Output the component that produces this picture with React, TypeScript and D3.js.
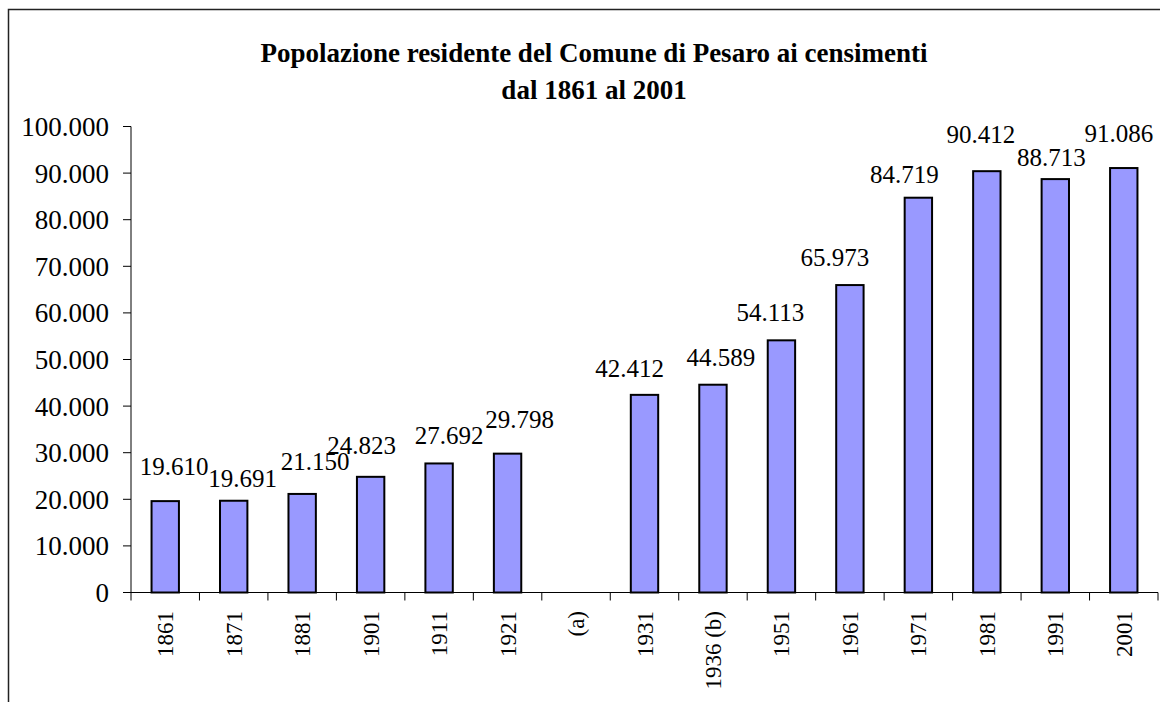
import React from "react";
import * as d3 from "d3";

const categories = ["1861", "1871", "1881", "1901", "1911", "1921", "(a)", "1931", "1936 (b)", "1951", "1961", "1971", "1981", "1991", "2001"];
const population: (number | null)[] = [19610, 19691, 21150, 24823, 27692, 29798, null, 42412, 44589, 54113, 65973, 84719, 90412, 88713, 91086];
const yTicks = [0, 10000, 20000, 30000, 40000, 50000, 60000, 70000, 80000, 90000, 100000];
const titleLines = ["Popolazione residente del Comune di Pesaro ai censimenti", "dal 1861 al 2001"];
// label nudges relative to bar centre / bar top (px)
const labelNudge: [number, number][] = [
  [9, -26], [9, -14], [13, -24], [-9, -23], [10, -19], [12, -26], [0, 0],
  [-15, -18], [8, -19], [-11, -19], [-15, -19], [-14, -15], [-6, -28], [-4, -13], [-5, -26],
];

const fmt = (v: number) => d3.format(",")(v).replace(/,/g, ".");

export default function App() {
  const W = 1160, H = 702;
  const x = d3.scaleBand<string>().domain(categories).range([131, 1158]).paddingInner(0).paddingOuter(0);
  const y = d3.scaleLinear().domain([0, 100000]).range([592.5, 126.5]);
  const bw = x.bandwidth();
  const barW = bw / 2.5;
  const font = "'Liberation Serif', 'Times New Roman', Times, serif";
  const y0 = y(0);
  const boundaries = d3.range(categories.length + 1).map((i) => 131 + i * bw);
  const ts = { fontFamily: font, fill: "#000" } as React.CSSProperties;

  return (
    <div style={{ position: "absolute", left: 0, top: 0 }}>
      <svg width={W} height={H} style={{ display: "block", fontFamily: font }}>
        <rect x={0} y={0} width={W} height={H} fill="#fff" />
        <rect x={8.5} y={9.5} width={1200} height={800} fill="none" stroke="#222" strokeWidth={1.5} />
        {titleLines.map((t, i) => (
          <text key={i} x={594} y={62 + i * 37} textAnchor="middle" fontWeight="bold" fontSize={27} style={ts}>
            {t}
          </text>
        ))}
        {/* y axis */}
        <line x1={131} x2={131} y1={y(100000)} y2={y0} stroke="#000" strokeWidth={1} />
        {yTicks.map((t) => (
          <g key={t}>
            <line x1={123} x2={131} y1={y(t)} y2={y(t)} stroke="#000" strokeWidth={1} />
            <text x={109} y={y(t)} dy="0.35em" textAnchor="end" fontSize={27} style={ts}>
              {t === 0 ? "0" : fmt(t)}
            </text>
          </g>
        ))}
        {/* bars */}
        {categories.map((c, i) => {
          const v = population[i];
          if (v == null) return null;
          const cx = (x(c) as number) + bw / 2;
          return (
            <rect key={c} x={cx - barW / 2} y={y(v)} width={barW} height={y0 - y(v)} fill="#9999FF" stroke="#000" strokeWidth={2} />
          );
        })}
        {/* x axis */}
        <line x1={131} x2={1158} y1={y0} y2={y0} stroke="#000" strokeWidth={1} />
        {boundaries.map((b, i) => (
          <line key={i} x1={b} x2={b} y1={y0} y2={y0 + 8} stroke="#000" strokeWidth={1} />
        ))}
        {categories.map((c) => {
          const cx = (x(c) as number) + bw / 2;
          return (
            <text key={c} transform={`translate(${cx + 8},${611}) rotate(-90)`} textAnchor="end" fontSize={23} style={ts}>
              {c}
            </text>
          );
        })}
        {/* value labels */}
        {categories.map((c, i) => {
          const v = population[i];
          if (v == null) return null;
          const cx = (x(c) as number) + bw / 2;
          return (
            <text key={c} x={cx + labelNudge[i][0]} y={y(v) + labelNudge[i][1]} textAnchor="middle" fontSize={25} style={ts}>
              {fmt(v)}
            </text>
          );
        })}
      </svg>
    </div>
  );
}
